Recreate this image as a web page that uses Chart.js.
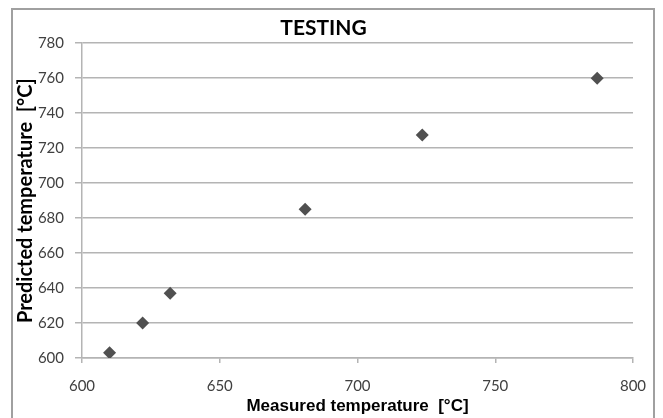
<!DOCTYPE html>
<html>
<head>
<meta charset="utf-8">
<script src="https://cdn.jsdelivr.net/npm/chart.js@4.4.1/dist/chart.umd.min.js"></script>
<style>
  html, body { margin: 0; padding: 0; background: #fff; }
  #wrap { position: relative; width: 663px; height: 418px; overflow: hidden; }
  #frame { position: absolute; left: 11px; top: 8px; width: 644px; height: 430px; border: 2px solid #a0a0a0; box-sizing: border-box; }
  canvas { position: absolute; left: 0; top: 0; }
</style>
</head>
<body>
<div id="wrap">
  <div id="frame"></div>
  <canvas id="scatterChart"></canvas>
</div>
<script>
// ─── data ───
const measured  = [610, 622, 632, 681, 723.5, 787];
const predicted = [603, 620, 637, 685, 727.5, 760];
const xTicks = [600, 650, 700, 750, 800];
const yTicks = [600, 620, 640, 660, 680, 700, 720, 740, 760, 780];

const gridColor = '#b4b4b4';
const tickColor = '#404040';

new Chart(document.getElementById('scatterChart'), {
  type: 'scatter',
  data: {
    datasets: [{
      label: 'Testing',
      data: measured.map((m, i) => ({ x: m, y: predicted[i] })),
      pointStyle: 'rectRot',
      pointRadius: 6.5,
      pointBackgroundColor: '#505050',
      pointBorderColor: '#505050',
      borderWidth: 0,
    }]
  },
  options: {
    responsive: true, maintainAspectRatio: false, animation: false,
    layout: { padding: { top: 16, left: 14, right: 30, bottom: 1 }},
    plugins: {
      legend: { display: false },
      tooltip: { enabled: false },
      title: {
        display: true, text: 'TESTING', color: '#000',
        font: { family: 'Lato', size: 21, weight: 'bold' },
        padding: { top: 0, bottom: 2 }
      }
    },
    scales: {
      x: {
        type: 'linear', min: 600, max: 800,
        afterBuildTicks: s => { s.ticks = xTicks.map(v => ({ value: v })); },
        afterFit: s => { s.height = 59; },
        grid: { drawOnChartArea: false, drawTicks: true, tickLength: 5, color: gridColor, lineWidth: 1.5 },
        border: { color: gridColor, width: 1.5 },
        ticks: { color: tickColor, padding: 14, font: { family: 'Lato', size: 15 }, maxRotation: 0 },
        title: {
          display: true, text: 'Measured temperature  [°C]', color: '#000',
          font: { family: "'Liberation Sans Narrow', 'Liberation Sans'", size: 17, weight: 'bold' },
          padding: { top: 0, bottom: 0 }
        }
      },
      y: {
        type: 'linear', min: 600, max: 780,
        afterBuildTicks: s => { s.ticks = yTicks.map(v => ({ value: v })); },
        afterFit: s => { s.width = 68; },
        grid: { color: gridColor, lineWidth: 1.5, tickLength: 7 },
        border: { color: gridColor, width: 1.5 },
        ticks: { color: tickColor, padding: 11, font: { family: 'Lato', size: 15 }},
        title: {
          display: true, text: 'Predicted temperature  [°C]', color: '#000',
          font: { family: 'Lato', size: 20, weight: 'bold' },
          padding: { top: 0, bottom: 0 }
        }
      }
    }
  }
});
</script>
</body>
</html>
